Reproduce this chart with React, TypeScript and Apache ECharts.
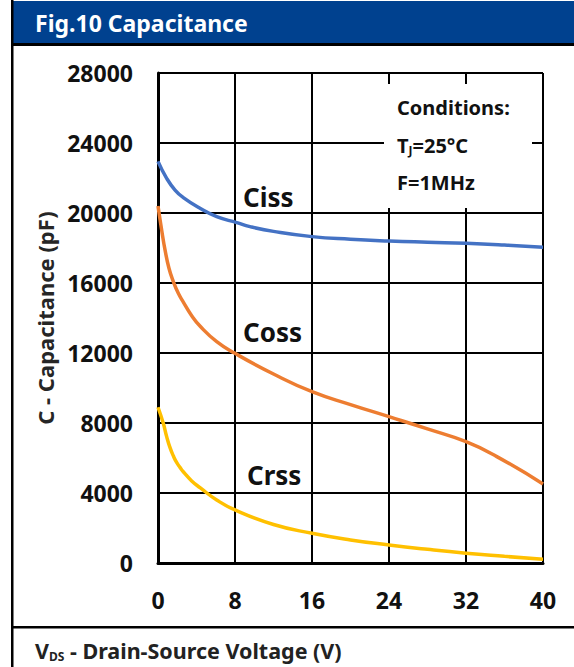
import React, { useEffect, useRef } from "react";
import * as echarts from "echarts";

const xTicks = [0, 8, 16, 24, 32, 40];
const yTicks = [0, 4000, 8000, 12000, 16000, 20000, 24000, 28000];

const cissV = [0, 0.9, 1.77, 2.63, 4.36, 6.1, 8.18, 9.56, 12, 16, 20, 24, 28, 32, 36, 40];
const cissC = [22950, 21980, 21310, 20880, 20270, 19790, 19450, 19220, 18950, 18650, 18500, 18400, 18330, 18270, 18170, 18040];

const cossV = [0, 0.38, 0.73, 1.14, 1.59, 2.11, 2.63, 3.5, 4.36, 6.1, 8, 12, 16, 20, 24, 28, 32, 35.2, 40];
const cossC = [20400, 19030, 17890, 16840, 16080, 15410, 14910, 14130, 13540, 12650, 11980, 10800, 9790, 9050, 8360, 7660, 6930, 6080, 4520];

const crssV = [0, 0.55, 0.9, 1.25, 1.6, 1.95, 2.3, 2.65, 3.5, 4.4, 6.1, 8, 12, 16, 20, 24, 28, 32, 36, 40];
const crssC = [8900, 7980, 7220, 6590, 6110, 5730, 5450, 5200, 4690, 4290, 3600, 3030, 2200, 1700, 1320, 1030, 780, 560, 380, 210];

const seriesNames = ["Ciss", "Coss", "Crss"];
const seriesColors = ["#4472C4", "#ED7D31", "#FFC000"];

const FONT = "Noto Sans";

function pairs(xs: number[], ys: number[]) {
  return xs.map((x, i) => [x, ys[i]]);
}

export default function App() {
  const ref = useRef<HTMLDivElement>(null);
  useEffect(() => {
    document.body.style.margin = "0";
    const chart = echarts.init(ref.current!, null, { renderer: "svg" });
    const datasets = [pairs(cissV, cissC), pairs(cossV, cossC), pairs(crssV, crssC)];
    const tickLabel = {
      margin: 25,
      color: "#111",
      fontFamily: FONT,
      fontWeight: "bold",
      fontSize: 23,
      formatter: (v: number) => String(v),
    };
    chart.setOption({
      animation: false,
      backgroundColor: "#ffffff",
      grid: { left: 158, right: 31, top: 73, bottom: 104 },
      xAxis: {
        type: "value",
        min: xTicks[0],
        max: xTicks[xTicks.length - 1],
        interval: 8,
        axisLine: { show: true, onZero: false, lineStyle: { color: "#000", width: 3 } },
        axisTick: { show: false },
        splitLine: { show: true, lineStyle: { color: "#000", width: 2 } },
        axisLabel: tickLabel,
      },
      yAxis: {
        type: "value",
        min: yTicks[0],
        max: yTicks[yTicks.length - 1],
        interval: 4000,
        axisLine: { show: true, onZero: false, lineStyle: { color: "#000", width: 3 } },
        axisTick: { show: false },
        splitLine: { show: true, lineStyle: { color: "#000", width: 2 } },
        axisLabel: tickLabel,
        name: "C - Capacitance (pF)",
        nameLocation: "middle",
        nameRotate: 90,
        nameGap: 95,
        nameTextStyle: { color: "#262626", fontFamily: FONT, fontWeight: "bold", fontSize: 22 },
      },
      series: datasets.map((d, i) => ({
        name: seriesNames[i],
        type: "line",
        data: d,
        smooth: 0.5,
        showSymbol: false,
        symbol: "none",
        lineStyle: { color: seriesColors[i], width: 3.5 },
        z: 5,
      })),
      graphic: [
        { type: "rect", shape: { x: 13, y: 1, width: 561, height: 43 }, style: { fill: "#00418F" }, z: 100 },
        { type: "rect", shape: { x: 13, y: 43, width: 561, height: 3 }, style: { fill: "#000" }, z: 100 },
        { type: "rect", shape: { x: 11, y: 0, width: 2.5, height: 667 }, style: { fill: "#000" }, z: 100 },
        { type: "rect", shape: { x: 13, y: 626, width: 561, height: 2.5 }, style: { fill: "#000" }, z: 100 },
        {
          type: "text", x: 35, y: 23, z: 101,
          style: { text: "Fig.10 Capacitance", fill: "#fff", font: `bold 23px "${FONT}"`, textVerticalAlign: "middle" },
        },
        {
          type: "text", x: 35, y: 650, z: 101,
          style: {
            text: "{v|V}{s|DS}{v| - Drain-Source Voltage (V)}",
            verticalAlign: "middle",
            rich: {
              v: { fontFamily: FONT, fontWeight: "bold", fontSize: 21.5, fill: "#222", lineHeight: 28 },
              s: { fontFamily: FONT, fontWeight: "bold", fontSize: 12, fill: "#222", lineHeight: 28, padding: [13, 0, 0, 0] },
            },
          },
        },
        { type: "rect", shape: { x: 384, y: 84, width: 148, height: 124 }, style: { fill: "#fff" }, z: 100 },
        {
          type: "text", x: 397, y: 107, z: 101,
          style: { text: "Conditions:", fill: "#111", font: `bold 20px "${FONT}"`, textVerticalAlign: "middle" },
        },
        {
          type: "text", x: 397, y: 145, z: 101,
          style: {
            text: "{a|T}{s|J}{a|=25°C}",
            verticalAlign: "middle",
            rich: {
              a: { fontFamily: FONT, fontWeight: "bold", fontSize: 20, fill: "#111", lineHeight: 24 },
              s: { fontFamily: FONT, fontWeight: "bold", fontSize: 12, fill: "#111", lineHeight: 24, padding: [10, 0, 0, 0] },
            },
          },
        },
        {
          type: "text", x: 397, y: 182, z: 101,
          style: { text: "F=1MHz", fill: "#111", font: `bold 20px "${FONT}"`, textVerticalAlign: "middle" },
        },
        {
          type: "text", x: 243, y: 197, z: 101,
          style: { text: seriesNames[0], fill: "#111", font: `bold 26px "${FONT}"`, textVerticalAlign: "middle" },
        },
        {
          type: "text", x: 243, y: 332, z: 101,
          style: { text: seriesNames[1], fill: "#111", font: `bold 26px "${FONT}"`, textVerticalAlign: "middle" },
        },
        {
          type: "text", x: 247, y: 475, z: 101,
          style: { text: seriesNames[2], fill: "#111", font: `bold 26px "${FONT}"`, textVerticalAlign: "middle" },
        },
      ],
    });
    return () => chart.dispose();
  }, []);
  return <div ref={ref} style={{ width: 574, height: 667 }} />;
}
